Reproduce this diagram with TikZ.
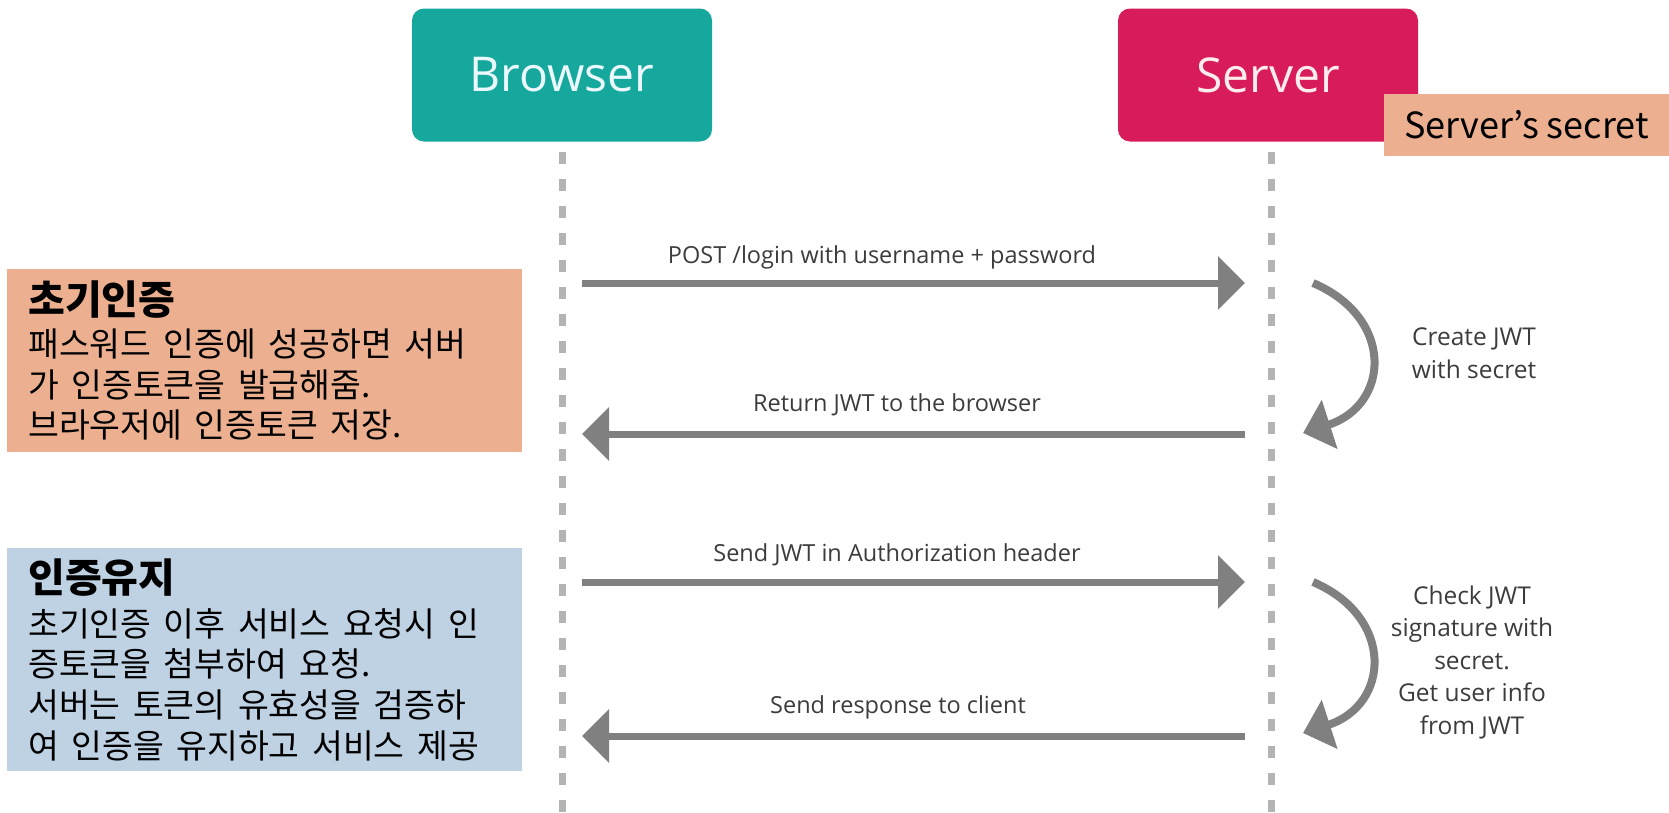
\documentclass[tikz,border=0pt]{standalone}
\usepackage{fontspec}
\setmainfont{Open Sans}
\newfontfamily\kofont{Noto Sans CJK KR}
\usetikzlibrary{
    arrows.meta,
    positioning
}
\definecolor{browsercol}{RGB}{22,168,156}
\definecolor{servercol}{RGB}{216,27,90}
\definecolor{initcol}{RGB}{236,176,144}
\definecolor{keepcol}{RGB}{190,210,228}
\definecolor{arrowgray}{RGB}{128,128,128}
\definecolor{dashgray}{RGB}{180,180,180}
\definecolor{labelgray}{RGB}{60,60,60}

\tikzset{
    actor/.style={rounded corners=12pt, minimum width=300pt, minimum height=133pt,
        inner sep=0pt, font=\fontsize{48}{48}\selectfont},
    lifeline/.style={draw=dashgray, line width=7pt, dash pattern=on 12pt off 15pt},
    msg/.style={draw=arrowgray, line width=7pt, -{Triangle[length=27pt, width=52pt]}},
    turn/.style={draw=arrowgray, line width=8pt, -{Triangle[length=28pt, width=50pt]}},
    msglabel/.style={text=labelgray, font=\fontsize{23.5}{28}\selectfont},
    turnlabel/.style={text=labelgray, align=center, font=\fontsize{24.5}{32.5}\selectfont},
    notebox/.style={anchor=north west, minimum width=515pt, text width=473pt,
        inner xsep=21pt, inner ysep=0pt, align=left,
        font=\kofont\fontsize{33.5}{40.7}\selectfont,
        execute at begin node={\spaceskip=12.5pt\relax}}
}

\begin{document}
\begin{tikzpicture}[x=1pt, y=-1pt]
    \useasboundingbox (0, 0) rectangle (1669, 812);

    % actors
    \node[actor, fill=browsercol, text=cyan!8] (browser) at (562, 75) {Browser};
    \node[actor, fill=servercol, text=pink!30] (server) at (1268, 75) {Server};
    \node[fill=initcol, minimum width=285pt, minimum height=62pt, inner sep=0pt,
        font=\kofont\fontsize{36}{36}\selectfont] (secret) at (1526.5, 125) {Server’s secret};

    % lifelines
    \coordinate (browserend) at (562, 812);
    \coordinate (serverend) at (1271, 812);
    \draw[lifeline, shorten <=10pt] (browser.south) -- (browserend);
    \draw[lifeline, shorten <=10pt] (serverend |- server.south) -- (serverend);

    % messages
    \coordinate (b1) at (582, 283);
    \coordinate (s1) at (1245, 283);
    \coordinate (b2) at (582, 434);
    \coordinate (s2) at (1245, 434);
    \coordinate (b3) at (582, 582);
    \coordinate (s3) at (1245, 582);
    \coordinate (b4) at (582, 736);
    \coordinate (s4) at (1245, 736);
    \draw[msg] (b1) -- (s1);
    \draw[msg] (s2) -- (b2);
    \draw[msg] (b3) -- (s3);
    \draw[msg] (s4) -- (b4);
    \node[msglabel] (postlabel) at (882, 257) {POST /login with username + password};
    \node[msglabel] (returnlabel) at (897, 405) {Return JWT to the browser};
    \node[msglabel] (sendlabel) at (897, 555) {Send JWT in Authorization header};
    \node[msglabel] (responselabel) at (898, 707) {Send response to client};

    % server side work
    \coordinate (c1) at (1313, 283);
    \coordinate (c2) at (1303, 433);
    \coordinate (c3) at (1313, 582);
    \coordinate (c4) at (1303, 733);
    \draw[turn] (c1) .. controls (1395, 318) and (1390, 405) .. (c2);
    \draw[turn] (c3) .. controls (1395, 617) and (1390, 705) .. (c4);
    \node[turnlabel] (createlabel) at (1474, 353) {Create JWT\\with secret};
    \node[turnlabel] (checklabel) at (1472, 662)
        {Check JWT\\signature with\\secret.\\Get user info\\from JWT};

    % notes
    \node[notebox, fill=initcol, minimum height=183pt] (initnote) at (7, 269)
        {{\bfseries\fontsize{40}{40.7}\selectfont 초기인증}\\[1pt]
        패스워드 인증에 성공하면 서버\\
        가 인증토큰을 발급해줌.\\
        브라우저에 인증토큰 저장.};
    \node[notebox, fill=keepcol, minimum height=223pt] (keepnote) at (7, 548)
        {{\bfseries\fontsize{40}{40.7}\selectfont 인증유지}\\[3pt]
        초기인증 이후 서비스 요청시 인\\
        증토큰을 첨부하여 요청.\\
        서버는 토큰의 유효성을 검증하\\
        여 인증을 유지하고 서비스 제공};
\end{tikzpicture}
\end{document}
